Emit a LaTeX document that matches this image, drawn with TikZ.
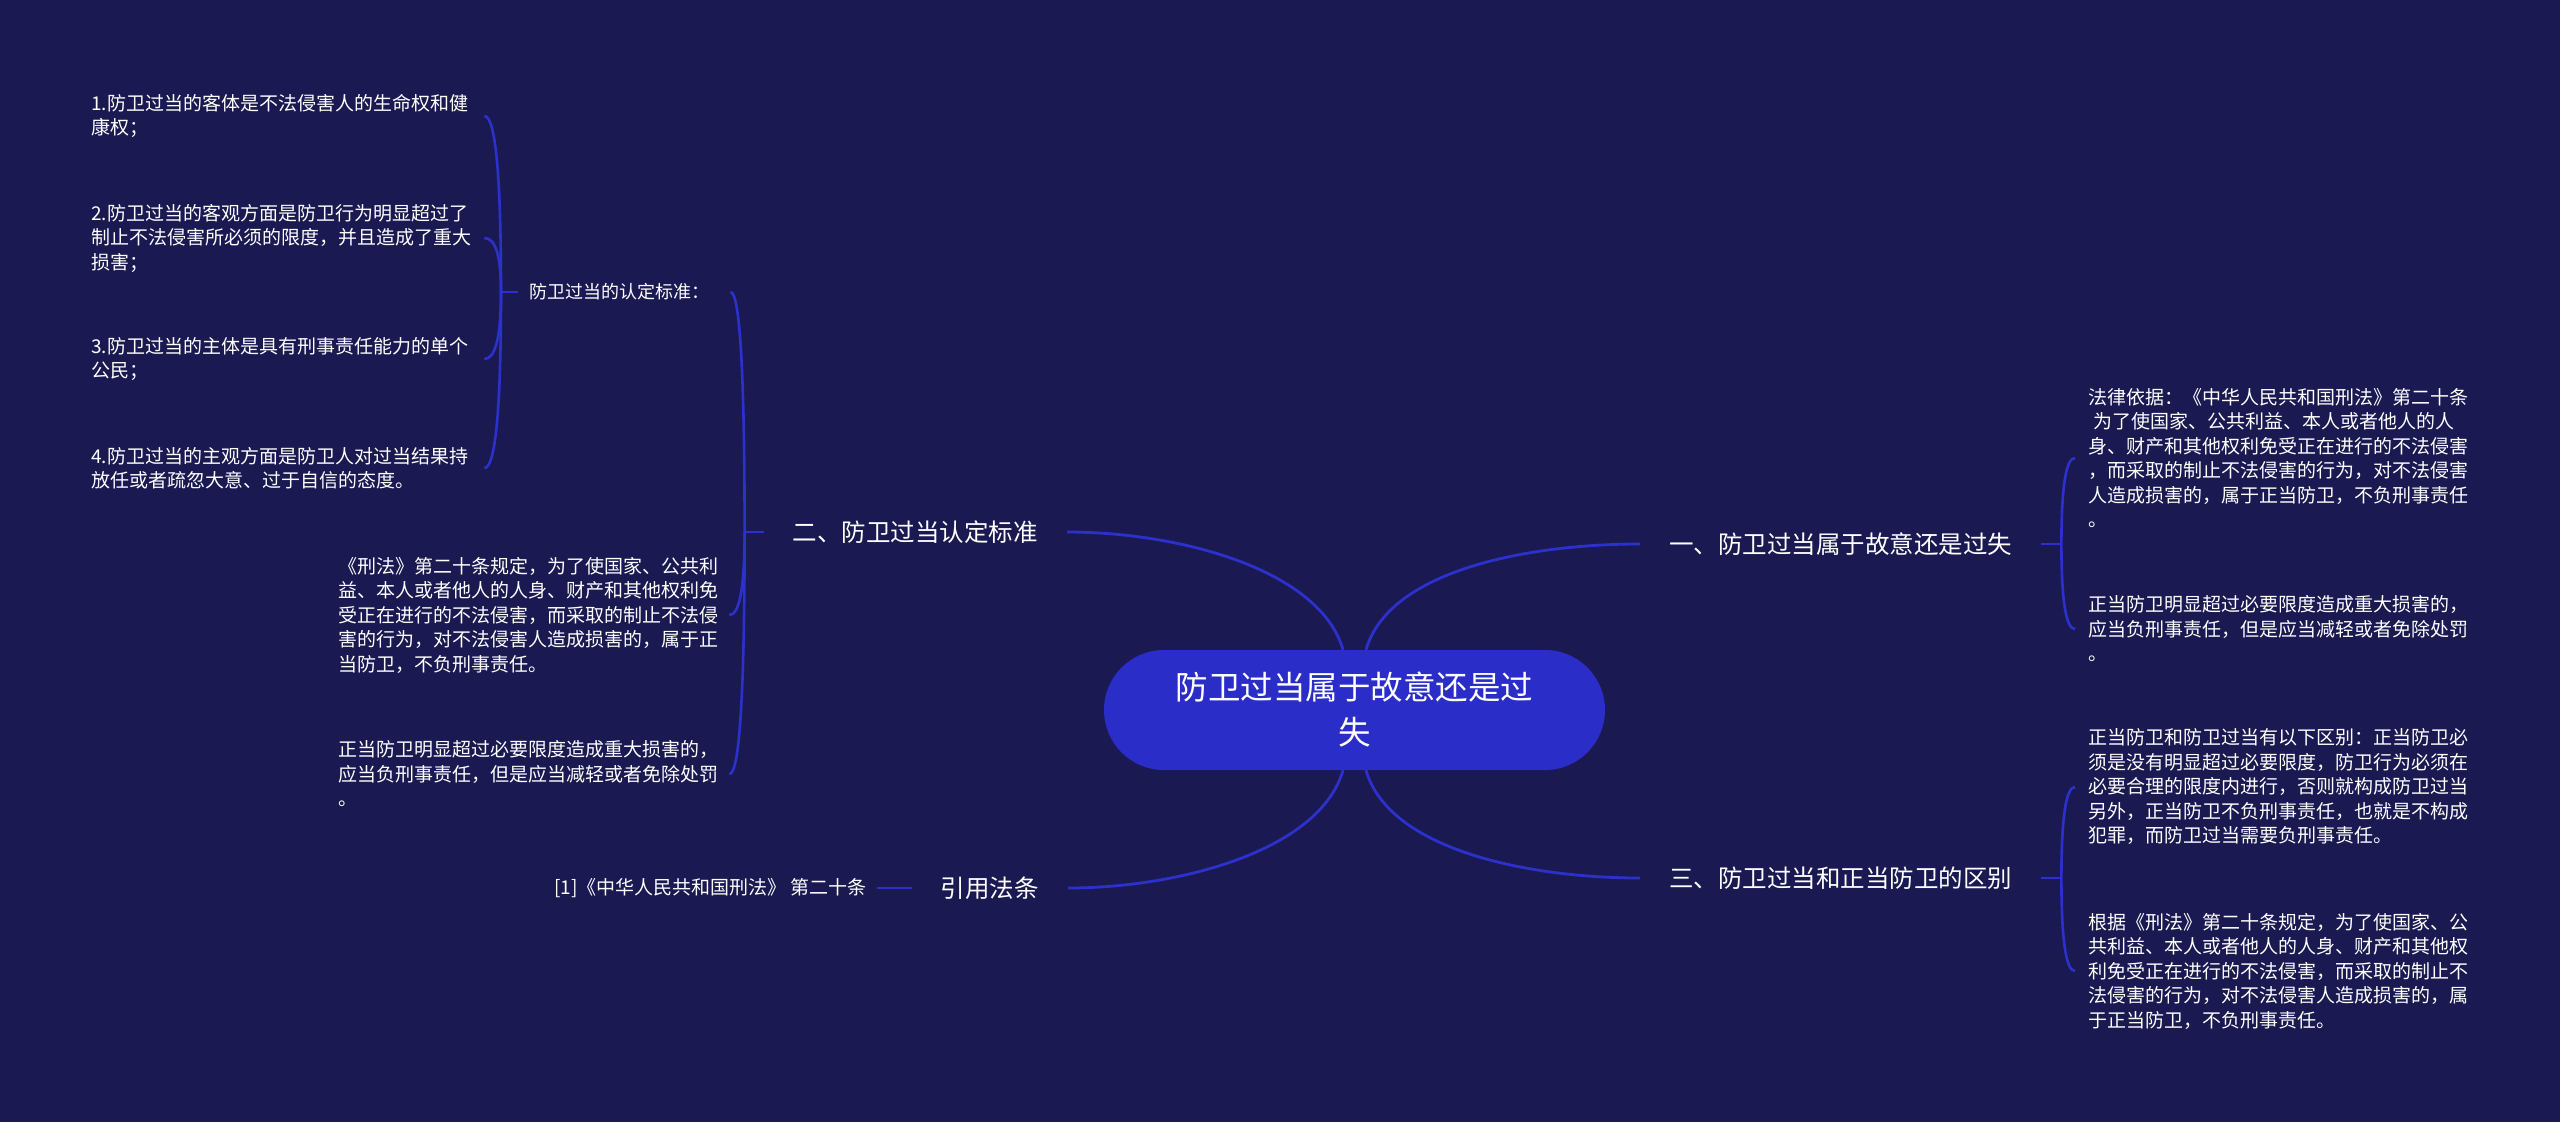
\documentclass[tikz,border=0pt]{standalone}
\usepackage{fontspec}
\setmainfont{Noto Sans CJK SC}
\usetikzlibrary{calc}
\definecolor{bgc}{HTML}{1A1952}
\definecolor{hub}{HTML}{2B2DC9}
\definecolor{wire}{HTML}{2D31CC}
\tikzset{
  conn/.style={draw=wire, line width=2.8pt},
  brk/.style={draw=wire, line width=2.6pt},
  hubnode/.style={fill=hub, rounded corners=59.9pt, minimum width=501pt, minimum height=120pt, text=white, align=center, font=\fontsize{32.5}{45}\selectfont, inner sep=0pt},
  branch/.style={text=white, inner xsep=29pt, inner ysep=0pt, font=\fontsize{24.5}{30}\selectfont},
  leaf/.style={text=white, align=left, inner ysep=0pt, font=\fontsize{19}{24.5}\selectfont},
}
\newcommand\qbrk[2]{%
  \coordinate (qk) at (#1 |- #2);
  \draw[brk] (#1) .. controls ($(#1)!0.667!(qk)$) and ($(#2)!0.667!(qk)$) .. (#2);}
\begin{document}
\begin{tikzpicture}[x=1pt,y=-1pt]
\fill[bgc] (0,0) rectangle (2560,1122);
\useasboundingbox (0,0) rectangle (2560,1122);

% center
\node[hubnode] (c) at (1354.5,710) {防卫过当属于故意还是过\\失};

% branches
\node[branch, anchor=west] (b1) at (1640,544) {一、防卫过当属于故意还是过失};
\node[branch, anchor=west] (b3) at (1640,878) {三、防卫过当和正当防卫的区别};
\node[branch, anchor=east] (b2) at (1067,532) {二、防卫过当认定标准};
\node[branch, anchor=east] (b4) at (1068,888) {引用法条};

% left column A
\node[leaf, anchor=west, inner xsep=10pt, text width=383pt] (a1) at (81,116) {1.防卫过当的客体是不法侵害人的生命权和健\\康权；};
\node[leaf, anchor=west, inner xsep=10pt, text width=383pt] (a2) at (81,238) {2.防卫过当的客观方面是防卫行为明显超过了\\制止不法侵害所必须的限度，并且造成了重大\\损害；};
\node[leaf, anchor=west, inner xsep=10pt, text width=383pt] (a3) at (81,359) {3.防卫过当的主体是具有刑事责任能力的单个\\公民；};
\node[leaf, anchor=west, inner xsep=10pt, text width=383pt] (a4) at (81,468) {4.防卫过当的主观方面是防卫人对过当结果持\\放任或者疏忽大意、过于自信的态度。};
\node[leaf, anchor=west, inner xsep=11pt, text width=190pt, font=\fontsize{18}{24}\selectfont] (s1) at (518,292) {防卫过当的认定标准：};

% left column B
\node[leaf, anchor=west, inner xsep=10pt, text width=381pt] (l1) at (328,615) {《刑法》第二十条规定，为了使国家、公共利\\益、本人或者他人的人身、财产和其他权利免\\受正在进行的不法侵害，而采取的制止不法侵\\害的行为，对不法侵害人造成损害的，属于正\\当防卫，不负刑事责任。};
\node[leaf, anchor=west, inner xsep=10pt, text width=381pt] (l2) at (328,774) {正当防卫明显超过必要限度造成重大损害的，\\应当负刑事责任，但是应当减轻或者免除处罚\\。};

% citation leaf
\node[leaf, anchor=east, inner xsep=10pt] (q1) at (877,888) {[1]《中华人民共和国刑法》 第二十条};

% right leaves
\node[leaf, anchor=west, inner xsep=13pt, text width=385pt] (r1) at (2075,458) {法律依据：《中华人民共和国刑法》第二十条\\\hspace*{5pt}为了使国家、公共利益、本人或者他人的人\\身、财产和其他权利免受正在进行的不法侵害\\，而采取的制止不法侵害的行为，对不法侵害\\人造成损害的，属于正当防卫，不负刑事责任\\。};
\node[leaf, anchor=west, inner xsep=13pt, text width=385pt] (r2) at (2075,629) {正当防卫明显超过必要限度造成重大损害的，\\应当负刑事责任，但是应当减轻或者免除处罚\\。};
\node[leaf, anchor=west, inner xsep=13pt, text width=385pt] (r3) at (2075,787) {正当防卫和防卫过当有以下区别：正当防卫必\\须是没有明显超过必要限度，防卫行为必须在\\必要合理的限度内进行，否则就构成防卫过当\\另外，正当防卫不负刑事责任，也就是不构成\\犯罪，而防卫过当需要负刑事责任。};
\node[leaf, anchor=west, inner xsep=13pt, text width=385pt] (r4) at (2075,971) {根据《刑法》第二十条规定，为了使国家、公\\共利益、本人或者他人的人身、财产和其他权\\利免受正在进行的不法侵害，而采取的制止不\\法侵害的行为，对不法侵害人造成损害的，属\\于正当防卫，不负刑事责任。};

% center connectors
\draw[conn] ([xshift=-11.5pt]c.north) .. controls +(-23,-80) and +(113,0) .. (b2.east);
\draw[conn] ([xshift=11.5pt]c.north) .. controls +(23,-80) and +(-111,0) .. (b1.west);
\draw[conn] ([xshift=-11.5pt]c.south) .. controls +(-23,80) and +(112,0) .. (b4.east);
\draw[conn] ([xshift=11.5pt]c.south) .. controls +(23,80) and +(-111,0) .. (b3.west);

% bracket of b2
\coordinate (j2) at ([xshift=-19pt]b2.west);
\draw[brk] (b2.west) -- (j2);
\qbrk{j2}{s1.east}
\qbrk{j2}{l1.east}
\qbrk{j2}{l2.east}

% bracket of s1
\coordinate (ja) at ([xshift=-17pt]s1.west);
\draw[brk] (s1.west) -- (ja);
\qbrk{ja}{a1.east}
\qbrk{ja}{a2.east}
\qbrk{ja}{a3.east}
\qbrk{ja}{a4.east}

% bracket of b1
\coordinate (j1) at ([xshift=20pt]b1.east);
\draw[brk] (b1.east) -- (j1);
\qbrk{j1}{r1.west}
\qbrk{j1}{r2.west}

% bracket of b3
\coordinate (j3) at ([xshift=20pt]b3.east);
\draw[brk] (b3.east) -- (j3);
\qbrk{j3}{r3.west}
\qbrk{j3}{r4.west}

% citation
\draw[brk] (b4.west) -- (q1.east);
\end{tikzpicture}
\end{document}
